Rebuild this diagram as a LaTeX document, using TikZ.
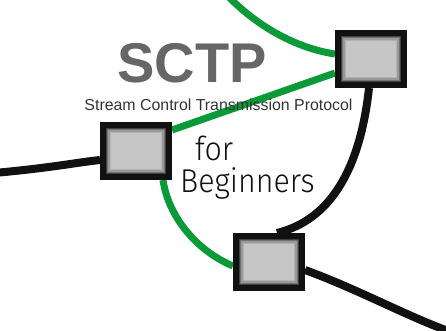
\documentclass[tikz,border=0pt]{standalone}
\usepackage{fontspec}
\setmainfont{Liberation Sans}
\newfontfamily\handfont{Fira Sans Light}
\usetikzlibrary{backgrounds}
\definecolor{wire}{HTML}{0A9A38}
\definecolor{boxgray}{HTML}{C6C6C6}
\definecolor{titlegray}{HTML}{666666}
\definecolor{subgray}{HTML}{333333}
\definecolor{ink}{HTML}{111111}

\begin{document}
\begin{tikzpicture}[x=1pt,y=-1pt,
  hostbox/.style={draw=ink, line width=6pt, fill=boxgray,
    minimum width=66pt, minimum height=52pt, inner sep=0pt,
    path picture={
      \foreach \d/\c in {3.6/black!75, 4.8/black!55, 6/black!40, 7.2/black!30}{
        \draw[\c, line width=1.3pt]
          ([shift={(\d pt,\d pt)}]path picture bounding box.south west) rectangle
          ([shift={(-\d pt,-\d pt)}]path picture bounding box.north east);
      }
    }},
  greenwire/.style={draw=wire, line width=7pt},
  blackwire/.style={draw=ink, line width=8pt},
  handtext/.style={font=\handfont\fontsize{33}{33}\selectfont, text=ink,
    inner sep=0pt, anchor=base west, xscale=0.92, transform shape},
]
\useasboundingbox (0,0) rectangle (446,330);

% hosts
\node[hostbox] (A) at (371,59) {};
\node[hostbox] (B) at (136,151) {};
\node[hostbox] (C) at (269,262) {};

% loose wire ends
\coordinate (gtop) at (226,-6);
\coordinate (wleft) at (-6,173);
\coordinate (wright) at (454,333);

% titles
\node[text=titlegray, font=\fontsize{56}{56}\selectfont\bfseries, inner sep=0pt] (title) at (192,63) {SCTP};
\node[text=subgray, font=\fontsize{15.9}{15.9}\selectfont, inner sep=0pt, anchor=base] (sub) at (218.5,110) {Stream Control Transmission Protocol};
\node[handtext] (for) at (195,160) {for};
\node[handtext] (beg) at (180,192) {Beginners};

% wires behind the hosts
\begin{pgfonlayer}{background}
\draw[greenwire] (gtop) .. controls (255,25) and (295,48) .. ([yshift=5pt]A.west);
\draw[greenwire] ([yshift=21pt]B.east) -- ([yshift=-14pt]A.west);
\draw[greenwire] ([xshift=27pt]B.south) .. controls (168,215) and (195,250) .. ([yshift=-4pt]C.west);
\draw[blackwire] (wleft) .. controls (50,168) and (80,162) .. ([yshift=-9pt]B.west);
\draw[blackwire] ([xshift=-2pt]A.south) .. controls (360,170) and (330,220) .. ([xshift=8pt]C.north);
\draw[blackwire] ([yshift=-8pt]C.east) .. controls (360,290) and (410,318) .. (wright);
\end{pgfonlayer}
\end{tikzpicture}
\end{document}
